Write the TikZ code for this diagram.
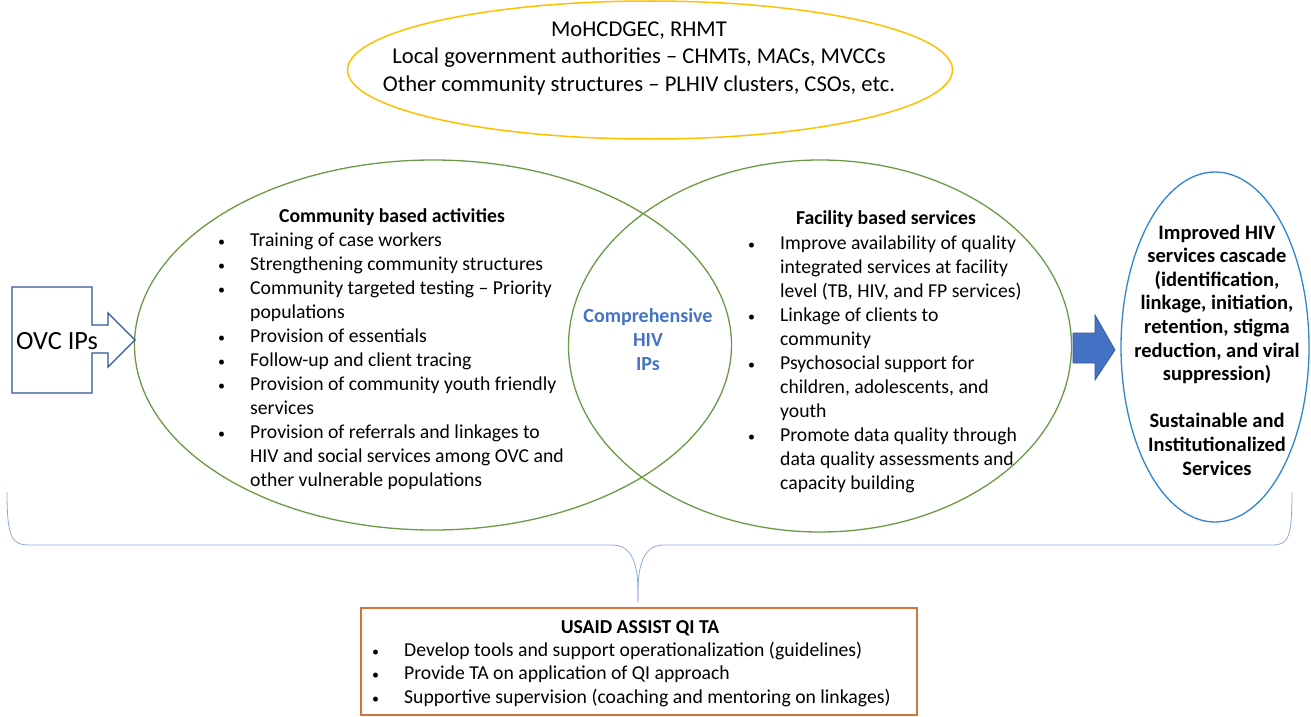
\documentclass[tikz,border=0pt]{standalone}
\usepackage{fontspec}
\setmainfont{Carlito}
\usetikzlibrary{shapes.geometric}
\definecolor{venngreen}{HTML}{6B9A45}
\definecolor{govgold}{HTML}{FFC000}
\definecolor{outblue}{HTML}{2E86D0}
\definecolor{ovcblue}{HTML}{2F5597}
\definecolor{arrowblue}{HTML}{4472C4}
\definecolor{braceblue}{HTML}{8EA9DB}
\definecolor{taorange}{HTML}{D2743A}
\newcommand{\blt}{{\fontsize{14}{14}\selectfont\textbullet}}
\begin{document}
\begin{tikzpicture}[x=1pt,y=-1pt,
  venn/.style={ellipse,draw=venngreen,line width=1.3pt,inner sep=0pt},
  body/.style={inner sep=0pt,font=\fontsize{19.7}{24}\selectfont},
  head/.style={inner sep=0pt,font=\fontsize{19.7}{24}\selectfont\bfseries}]
\useasboundingbox (0,0) rectangle (1311,717);
\node [ellipse,draw=govgold,line width=1.5pt,minimum width=605pt,minimum height=138pt] (gov) at (650,70) {};
\node [inner sep=0pt,align=center,font=\fontsize{22.6}{27.5}\selectfont] (govtext) at (639,58) {MoHCDGEC, RHMT\\Local government authorities -- CHMTs, MACs, MVCCs\\Other community structures -- PLHIV clusters, CSOs, etc.};
\node [venn,minimum width=597pt,minimum height=370pt] (community) at (433,345) {};
\node [venn,minimum width=503pt,minimum height=372pt] (facility) at (820,346) {};
\node [ellipse,draw=outblue,line width=1.3pt,minimum width=188pt,minimum height=350pt] (cascade) at (1215,347) {};
\node [head] (commhead) at (392,217) {Community based activities};
\node [body,anchor=base west] (commlist) at (218,246) {\begin{tabular}[t]{@{}p{32pt}@{}l@{}}
\blt & Training of case workers\\
\blt & Strengthening community structures\\
\blt & Community targeted testing -- Priority\\
 & populations\\
\blt & Provision of essentials\\
\blt & Follow-up and client tracing\\
\blt & Provision of community youth friendly\\
 & services\\
\blt & Provision of referrals and linkages to\\
 & HIV and social services among OVC and\\
 & other vulnerable populations
\end{tabular}};
\node [head] (facihead) at (886,219) {Facility based services};
\node [body,anchor=base west] (facilist) at (748,249) {\begin{tabular}[t]{@{}p{32pt}@{}l@{}}
\blt & Improve availability of quality\\
 & integrated services at facility\\
 & level (TB, HIV, and FP services)\\
\blt & Linkage of clients to\\
 & community\\
\blt & Psychosocial support for\\
 & children, adolescents, and\\
 & youth\\
\blt & Promote data quality through\\
 & data quality assessments and\\
 & capacity building
\end{tabular}};
\node [head,text=arrowblue,align=center,font=\fontsize{20}{24}\selectfont\bfseries] (comprehensive) at (648,340) {Comprehensive\\HIV\\IPs};
\node [head,align=center,font=\fontsize{20.5}{23.6}\selectfont\bfseries] (cascadetext) at (1217,350) {Improved HIV\\services cascade\\(identification,\\linkage, initiation,\\retention, stigma\\reduction, and viral\\suppression)\\[23.6pt]Sustainable and\\Institutionalized\\Services};
\draw [ovcblue,line width=1.3pt,fill=white] (12,287) -- (92,287) -- (92,325) -- (108,325) -- (108,313) -- (135,340) -- (108,367) -- (108,353) -- (92,353) -- (92,393) -- (12,393) -- cycle;
\node [inner sep=0pt,font=\fontsize{26.3}{32}\selectfont] (ovc) at (57,341) {OVC IPs};
\draw [arrowblue!80!black,fill=arrowblue,line width=0.8pt] (1073,333) -- (1095,333) -- (1095,315) -- (1115,350) -- (1095,380) -- (1095,363) -- (1073,363) -- cycle;
\coordinate (bracetip) at (638,602);
\draw [braceblue,line width=0.8pt] (7,492) .. controls (7,539) and (12,545) .. (30,545) -- (612,545) .. controls (630,545) and (638,560) .. (638,592) -- (bracetip);
\draw [braceblue,line width=0.8pt] (bracetip) -- (638,592) .. controls (638,560) and (646,545) .. (664,545) -- (1272,545) .. controls (1288,545) and (1292,539) .. (1292,492);
\node [draw=taorange,line width=1.3pt,minimum width=556pt,minimum height=107pt] (usaid) at (639,661.5) {};
\node [head] (usaidhead) at (640,628) {USAID ASSIST QI TA};
\node [body,anchor=base west,font=\fontsize{19.7}{23.5}\selectfont] (usaidlist) at (372,656) {\begin{tabular}[t]{@{}p{32pt}@{}l@{}}
\blt & Develop tools and support operationalization (guidelines)\\
\blt & Provide TA on application of QI approach\\
\blt & Supportive supervision (coaching and mentoring on linkages)
\end{tabular}};
\end{tikzpicture}
\end{document}
